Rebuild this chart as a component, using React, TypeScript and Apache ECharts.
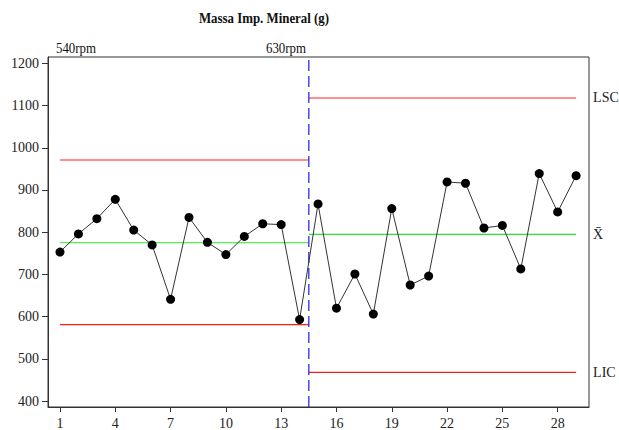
import React, { useEffect, useRef } from "react";
import * as echarts from "echarts";

const samples = [1, 2, 3, 4, 5, 6, 7, 8, 9, 10, 11, 12, 13, 14, 15, 16, 17, 18, 19, 20, 21, 22, 23, 24, 25, 26, 27, 28, 29];
const values = [753, 796, 832, 878, 805, 770, 641, 835, 776, 747, 790, 820, 818, 593, 867, 620, 701, 606, 856, 675, 696, 919, 916, 810, 816, 713, 939, 848, 934];
const xTicks = [1, 4, 7, 10, 13, 16, 19, 22, 25, 28];
const yTicks = [400, 500, 600, 700, 800, 900, 1000, 1100, 1200];
const phaseNames = ["540rpm", "630rpm"];
const phaseStart = [1, 14.5];
const phaseEnd = [14.5, 29];
const lscValues = [971, 1118];
const meanValues = [775, 795];
const licValues = [581, 468];
const divider = 14.5;
const limitLabels = ["LSC", "X\u0304", "LIC"];

const FONT = "'Liberation Serif', 'DejaVu Serif', serif";

export default function App() {
  const ref = useRef<HTMLDivElement>(null);
  useEffect(() => {
    if (!ref.current) return;
    const chart = echarts.init(ref.current, undefined, { renderer: "svg" });
    const yMin = 386;
    const yMax = 1215;

    const limitSeries: any[] = [];
    const kinds = [
      { vals: lscValues, color: "#ff6b6b", width: 1.4, label: limitLabels[0] },
      { vals: meanValues, color: "#2fe02f", width: 1.2, label: limitLabels[1] },
      { vals: licValues, color: "#ff1a1a", width: 1.2, label: limitLabels[2] },
    ];
    kinds.forEach((k) => {
      phaseStart.forEach((s, i) => {
        const last = i === phaseStart.length - 1;
        limitSeries.push({
          type: "line",
          data: [
            [s, k.vals[i]],
            [phaseEnd[i], k.vals[i]],
          ],
          symbol: "none",
          silent: true,
          z: 1,
          lineStyle: { color: k.color, width: k.width },
          endLabel: last
            ? {
                show: true,
                formatter: k.label,
                distance: 17,
                color: "#222",
                fontFamily: FONT,
                fontSize: 14,
              }
            : { show: false },
        });
      });
    });

    chart.setOption({
      animation: false,
      backgroundColor: "#ffffff",
      grid: {
        left: 48,
        right: 30,
        top: 57,
        bottom: 21,
        show: true,
        borderColor: "#333",
        borderWidth: 1,
        backgroundColor: "transparent",
      },
      xAxis: {
        type: "value",
        min: 0.35,
        max: 29.7,
        splitLine: { show: false },
        axisLine: { show: true, lineStyle: { color: "#333", width: 1 } },
        axisTick: {
          show: true,
          length: 5,
          customValues: xTicks,
          lineStyle: { color: "#333" },
        },
        axisLabel: {
          customValues: xTicks,
          formatter: (v: number) => String(v),
          margin: 9,
          color: "#222",
          fontFamily: FONT,
          fontSize: 14,
        },
      },
      yAxis: {
        type: "value",
        min: yMin,
        max: yMax,
        splitLine: { show: false },
        axisLine: { show: true, lineStyle: { color: "#333", width: 1 } },
        axisTick: {
          show: true,
          length: 6,
          customValues: yTicks,
          lineStyle: { color: "#333" },
        },
        axisLabel: {
          customValues: yTicks,
          formatter: (v: number) => String(v),
          margin: 9,
          color: "#222",
          fontFamily: FONT,
          fontSize: 14,
        },
      },
      graphic: [
        {
          type: "text",
          x: 264,
          y: 18,
          scaleX: 0.92,
          style: {
            text: "Massa Imp. Mineral (g)",
            textAlign: "center",
            textVerticalAlign: "middle",
            font: `bold 14px ${FONT}`,
            fill: "#111",
          },
        },
        {
          type: "text",
          x: 56,
          y: 48,
          scaleX: 0.92,
          style: {
            text: phaseNames[0],
            textAlign: "left",
            textVerticalAlign: "middle",
            font: `14px ${FONT}`,
            fill: "#111",
          },
        },
        {
          type: "text",
          x: 266,
          y: 48,
          scaleX: 0.92,
          style: {
            text: phaseNames[1],
            textAlign: "left",
            textVerticalAlign: "middle",
            font: `14px ${FONT}`,
            fill: "#111",
          },
        },
      ],
      series: [
        ...limitSeries,
        {
          type: "line",
          data: [
            [divider, yMin],
            [divider, yMax],
          ],
          symbol: "none",
          silent: true,
          z: 2,
          lineStyle: { color: "#1a1aee", width: 1.2, type: [11, 5] },
        },
        {
          type: "line",
          data: samples.map((s, i) => [s, values[i]]),
          symbol: "circle",
          symbolSize: 9,
          z: 5,
          itemStyle: { color: "#000" },
          lineStyle: { color: "#333", width: 1 },
        },
      ],
    });
    return () => chart.dispose();
  }, []);
  return (
    <div
      ref={ref}
      style={{ position: "fixed", left: 0, top: 0, width: 619, height: 430, background: "#fff" }}
    />
  );
}
